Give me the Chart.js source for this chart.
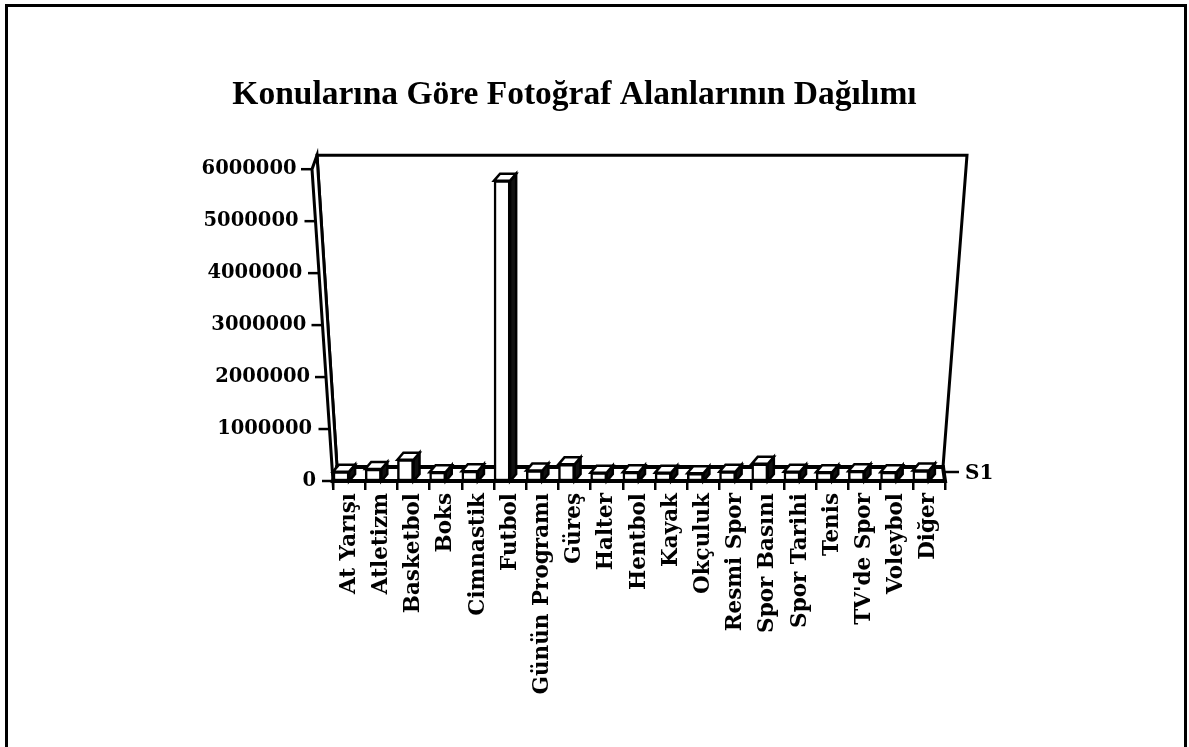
<!DOCTYPE html>
<html><head><meta charset="utf-8">
<script src="https://cdn.jsdelivr.net/npm/chart.js@4.4.1/dist/chart.umd.min.js"></script>
<style>
html,body{margin:0;padding:0;background:#fff;overflow:hidden;}
#frame{position:absolute;left:5px;top:4px;width:1182px;height:744px;box-sizing:border-box;border:3px solid #000;border-bottom:1px solid #bbb;}
#wrap{position:absolute;left:0;top:0;width:1189px;height:747px;}
</style></head><body>
<div id="frame"></div>
<div id="wrap"><canvas id="c" width="1189" height="747"></canvas></div>
<script>
const chartTitle = 'Konularına Göre Fotoğraf Alanlarının Dağılımı';
const seriesName = 'S1';
const categories = ['At Yarışı','Atletizm','Basketbol','Boks','Cimnastik','Futbol','Günün Programı','Güreş','Halter','Hentbol','Kayak','Okçuluk','Resmi Spor','Spor Basını','Spor Tarihi','Tenis',"TV'de Spor",'Voleybol','Diğer'];
const values = [180000,230000,410000,170000,190000,5780000,200000,320000,160000,170000,160000,150000,180000,330000,180000,170000,190000,170000,200000];
const yTickValues = [0,1000000,2000000,3000000,4000000,5000000,6000000];

const serif = "'DejaVu Serif', serif";
const yFont = {family: serif, weight: 'bold', size: 19.5};
const Y_MAX = 6000000;

// width of a hair space in the tick font, used to follow the slanted 3D axis edge
const mctx = document.createElement('canvas').getContext('2d');
mctx.font = 'bold 19.5px ' + serif;
let hairW = mctx.measureText('\u200A').width;
let padChar = '\u200A';
if (!(hairW > 0.5)) { padChar = '\u2009'; hairW = mctx.measureText('\u2009').width; }
if (!(hairW > 0.5)) { padChar = ' '; hairW = mctx.measureText(' ').width; }

function slantLabel(v) {
  const shift = 20 * v / Y_MAX;
  const n = Math.max(0, Math.round(shift / hairW));
  return String(v) + padChar.repeat(n);
}

const depthPlugin = {
  id: 'depth3d',
  beforeDatasetsDraw(chart) {
    const {ctx} = chart;
    const {left: L, right: R, top: T, bottom: B} = chart.chartArea;
    const fb = B - 14;
    ctx.save();
    ctx.strokeStyle = '#000';
    ctx.lineJoin = 'miter';
    ctx.lineWidth = 3;
    // back wall
    ctx.beginPath();
    ctx.moveTo(L - 16, T - 14); ctx.lineTo(R + 22, T - 14); ctx.lineTo(R - 2, fb); ctx.lineTo(L + 4, fb); ctx.closePath();
    ctx.fillStyle = '#fff'; ctx.fill(); ctx.stroke();
    // left side wall
    ctx.beginPath();
    ctx.moveTo(L - 16, T - 14); ctx.lineTo(L - 21, T); ctx.lineTo(L, B); ctx.lineTo(L + 4, fb); ctx.closePath();
    ctx.fill(); ctx.stroke();
    // floor
    ctx.beginPath();
    ctx.moveTo(L, B); ctx.lineTo(L + 4, fb); ctx.lineTo(R - 2, fb); ctx.lineTo(R, B); ctx.closePath();
    ctx.fillStyle = '#fff'; ctx.fill(); ctx.lineWidth = 4; ctx.stroke();
    // y tick marks along slanted front edge
    const ys = chart.scales.y;
    ctx.lineWidth = 2.5;
    ys.ticks.forEach(t => {
      const y = ys.getPixelForValue(t.value);
      const xe = L - 21 * (B - y) / (B - T);
      ctx.beginPath(); ctx.moveTo(xe - 11, y); ctx.lineTo(xe, y); ctx.stroke();
    });
    // series depth tick on right
    ctx.beginPath(); ctx.moveTo(R, B - 9); ctx.lineTo(R + 14, B - 9); ctx.stroke();
    ctx.restore();
  },
  afterDatasetsDraw(chart) {
    const {ctx} = chart;
    const {right: R, bottom: B} = chart.chartArea;
    const meta = chart.getDatasetMeta(0);
    const dx = 6, dy = -7;
    ctx.save();
    ctx.strokeStyle = '#000';
    ctx.lineWidth = 2.5;
    meta.data.forEach(bar => {
      const p = bar.getProps(['x', 'y', 'base', 'width'], true);
      const l = p.x - p.width / 2, r = p.x + p.width / 2;
      // side face
      ctx.beginPath();
      ctx.moveTo(r, p.y); ctx.lineTo(r + dx, p.y + dy); ctx.lineTo(r + dx, p.base + dy); ctx.lineTo(r, p.base); ctx.closePath();
      ctx.fillStyle = '#111'; ctx.fill(); ctx.stroke();
      // top face
      ctx.beginPath();
      ctx.moveTo(l, p.y); ctx.lineTo(l + dx, p.y + dy); ctx.lineTo(r + dx, p.y + dy); ctx.lineTo(r, p.y); ctx.closePath();
      ctx.fillStyle = '#fff'; ctx.fill(); ctx.stroke();
    });
    ctx.fillStyle = '#000';
    ctx.font = "bold 20px " + serif;
    ctx.textBaseline = 'middle';
    ctx.textAlign = 'left';
    ctx.fillText(chart.data.datasets[0].label, R + 20, B - 7);
    ctx.restore();
  }
};

new Chart(document.getElementById('c'), {
  type: 'bar',
  data: {
    labels: categories,
    datasets: [
      {label: seriesName, data: values, backgroundColor: '#fff', borderColor: '#000', borderWidth: 2.5, borderSkipped: false, barPercentage: 1, categoryPercentage: 1},
      {label: '', data: categories.map(() => null), backgroundColor: 'rgba(0,0,0,0)', barPercentage: 1, categoryPercentage: 1}
    ]
  },
  options: {
    responsive: false,
    animation: false,
    devicePixelRatio: 1,
    layout: {padding: {left: 0, right: 40, top: 0, bottom: 0}},
    plugins: {
      legend: {display: false},
      tooltip: {enabled: false},
      title: {
        display: true, text: chartTitle, color: '#000',
        font: {family: "'Liberation Serif', serif", weight: 'bold', size: 33.5, lineHeight: 1.2},
        padding: {top: 75, bottom: 54}
      }
    },
    scales: {
      x: {
        type: 'category',
        offset: true,
        grid: {display: true, drawOnChartArea: false, drawTicks: true, tickLength: 9, color: '#000', lineWidth: 2.5, offset: true},
        border: {display: true, color: '#000', width: 3},
        ticks: {maxRotation: 90, minRotation: 90, autoSkip: false, padding: 3, color: '#000', font: {family: serif, weight: 'bold', size: 21.5}},
        afterFit(s) { s.height = 266; }
      },
      y: {
        min: 0, max: Y_MAX,
        grid: {display: false},
        border: {display: false},
        afterBuildTicks(s) { s.ticks = yTickValues.map(v => ({value: v})); },
        ticks: {padding: 9, color: '#000', font: yFont, callback: v => slantLabel(v)},
        afterFit(s) { s.width = 333; }
      },
      yR: {
        position: 'right', display: true,
        grid: {display: false}, border: {display: false}, ticks: {display: false},
        afterFit(s) { s.width = 204; }
      }
    }
  },
  plugins: [depthPlugin]
});
</script>
</body></html>
